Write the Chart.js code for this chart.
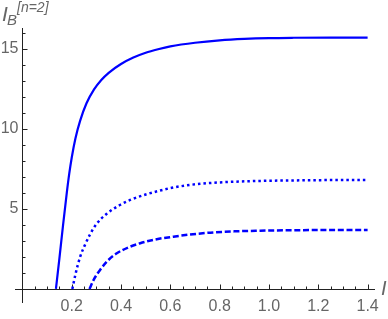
<!DOCTYPE html>
<html>
<head>
<meta charset="utf-8">
<script src="https://cdn.jsdelivr.net/npm/chart.js@4"></script>
<style>
  html, body { margin: 0; padding: 0; background: #fff; }
  #wrap { width: 388px; height: 319px; }
</style>
</head>
<body>
<div id="wrap"><canvas id="chart" width="388" height="319"></canvas></div>
<script>
// values
const solidX = [0.136, 0.15, 0.165, 0.18, 0.19, 0.2, 0.215, 0.234, 0.26, 0.29, 0.32, 0.35, 0.4, 0.45, 0.5, 0.55, 0.6, 0.7, 0.8, 0.9, 1.0, 1.1, 1.25, 1.4];
const solidY = [0, 1.9, 4.0, 6.0, 7.2, 8.2, 9.4, 10.5, 11.6, 12.45, 13.05, 13.5, 14.05, 14.45, 14.75, 14.97, 15.15, 15.38, 15.53, 15.62, 15.67, 15.69, 15.7, 15.7];

const dottedX = [0.2025, 0.215, 0.234, 0.255, 0.274, 0.3, 0.342, 0.39, 0.437, 0.5, 0.559, 0.6, 0.68, 0.762, 0.86, 0.965, 1.1, 1.25, 1.4];
const dottedY = [0, 0.9, 2.0, 2.8, 3.4, 4.05, 4.7, 5.2, 5.56, 5.9, 6.15, 6.3, 6.5, 6.62, 6.7, 6.75, 6.78, 6.8, 6.8];

const dashedX = [0.272, 0.29, 0.315, 0.345, 0.383, 0.43, 0.478, 0.52, 0.559, 0.6, 0.68, 0.762, 0.86, 0.965, 1.1, 1.25, 1.4];
const dashedY = [0, 0.6, 1.19, 1.75, 2.23, 2.6, 2.86, 3.03, 3.15, 3.24, 3.4, 3.52, 3.6, 3.64, 3.67, 3.68, 3.68];

const xTickLabels = ["0.2", "0.4", "0.6", "0.8", "1.0", "1.2", "1.4"];
const yTickLabels = ["5", "10", "15"];

const toPoints = (xs, ys) => xs.map((v, i) => ({ x: v, y: ys[i] }));

// mathematica style axes crossing at the origin, ticks pointing inward
const axesPlugin = {
  id: "mmaAxes",
  beforeDatasetsDraw(chart) {
    const { ctx, chartArea: a, scales } = chart;
    const sx = scales.x, sy = scales.y;
    const x0 = Math.round(sx.getPixelForValue(0)) + 0.5;
    const y0 = Math.round(sy.getPixelForValue(0)) + 0.5;
    ctx.save();
    ctx.strokeStyle = "#222";
    ctx.lineWidth = 1;
    ctx.beginPath();
    ctx.moveTo(a.left, y0);
    ctx.lineTo(a.right, y0);
    ctx.moveTo(x0, a.top);
    ctx.lineTo(x0, a.bottom);
    // x ticks: minor every 0.05, major every 0.2
    for (let k = 1; k <= 28; k++) {
      const px = Math.round(sx.getPixelForValue(k * 0.05)) + 0.5;
      const len = k % 4 === 0 ? 5 : 3;
      ctx.moveTo(px, y0);
      ctx.lineTo(px, y0 - len);
    }
    // y ticks: minor every 1, major every 5
    for (let k = 1; k <= 16; k++) {
      const py = Math.round(sy.getPixelForValue(k)) + 0.5;
      const len = k % 5 === 0 ? 5 : 3;
      ctx.moveTo(x0, py);
      ctx.lineTo(x0 + len, py);
    }
    ctx.stroke();

    ctx.fillStyle = "#666";
    ctx.font = "16px 'Liberation Sans', Arial, sans-serif";
    ctx.textAlign = "center";
    ctx.textBaseline = "middle";
    xTickLabels.forEach((t) => {
      ctx.fillText(t, sx.getPixelForValue(parseFloat(t)), y0 + 17);
    });
    ctx.textAlign = "right";
    yTickLabels.forEach((t) => {
      ctx.fillText(t, x0 - 4, sy.getPixelForValue(parseFloat(t)));
    });

    // axis labels
    ctx.textAlign = "left";
    ctx.textBaseline = "alphabetic";
    ctx.font = "italic 21px 'Liberation Sans', Arial, sans-serif";
    ctx.fillText("I", 2, 21);
    ctx.font = "italic 15px 'Liberation Sans', Arial, sans-serif";
    ctx.fillText("B", 7, 25);
    ctx.font = "italic 14px 'Liberation Sans', Arial, sans-serif";
    ctx.fillText("[n=2]", 17, 12);
    ctx.font = "italic 20px 'Liberation Sans', Arial, sans-serif";
    ctx.textBaseline = "middle";
    ctx.fillText("I", 381, y0);
    ctx.restore();
  },
};

const blue = "#0000ff";

new Chart(document.getElementById("chart").getContext("2d"), {
  type: "line",
  data: {
    datasets: [
      {
        label: "solid",
        data: toPoints(solidX, solidY),
        borderColor: blue,
        borderWidth: 2.2,
        pointRadius: 0,
        cubicInterpolationMode: "monotone",
        fill: false,
      },
      {
        label: "dotted",
        data: toPoints(dottedX, dottedY),
        borderColor: blue,
        borderWidth: 2.5,
        borderDash: [2.5, 3],
        pointRadius: 0,
        cubicInterpolationMode: "monotone",
        fill: false,
      },
      {
        label: "dashed",
        data: toPoints(dashedX, dashedY),
        borderColor: blue,
        borderWidth: 2.5,
        borderDash: [6, 2.7],
        pointRadius: 0,
        cubicInterpolationMode: "monotone",
        fill: false,
      },
    ],
  },
  options: {
    responsive: false,
    animation: false,
    layout: { padding: { left: 15, right: 13, top: 28, bottom: 16 } },
    plugins: {
      legend: { display: false },
      tooltip: { enabled: false },
    },
    scales: {
      x: { type: "linear", min: -0.03, max: 1.43, display: false },
      y: { type: "linear", min: -0.875, max: 16.3, display: false },
    },
  },
  plugins: [axesPlugin],
});
</script>
</body>
</html>
